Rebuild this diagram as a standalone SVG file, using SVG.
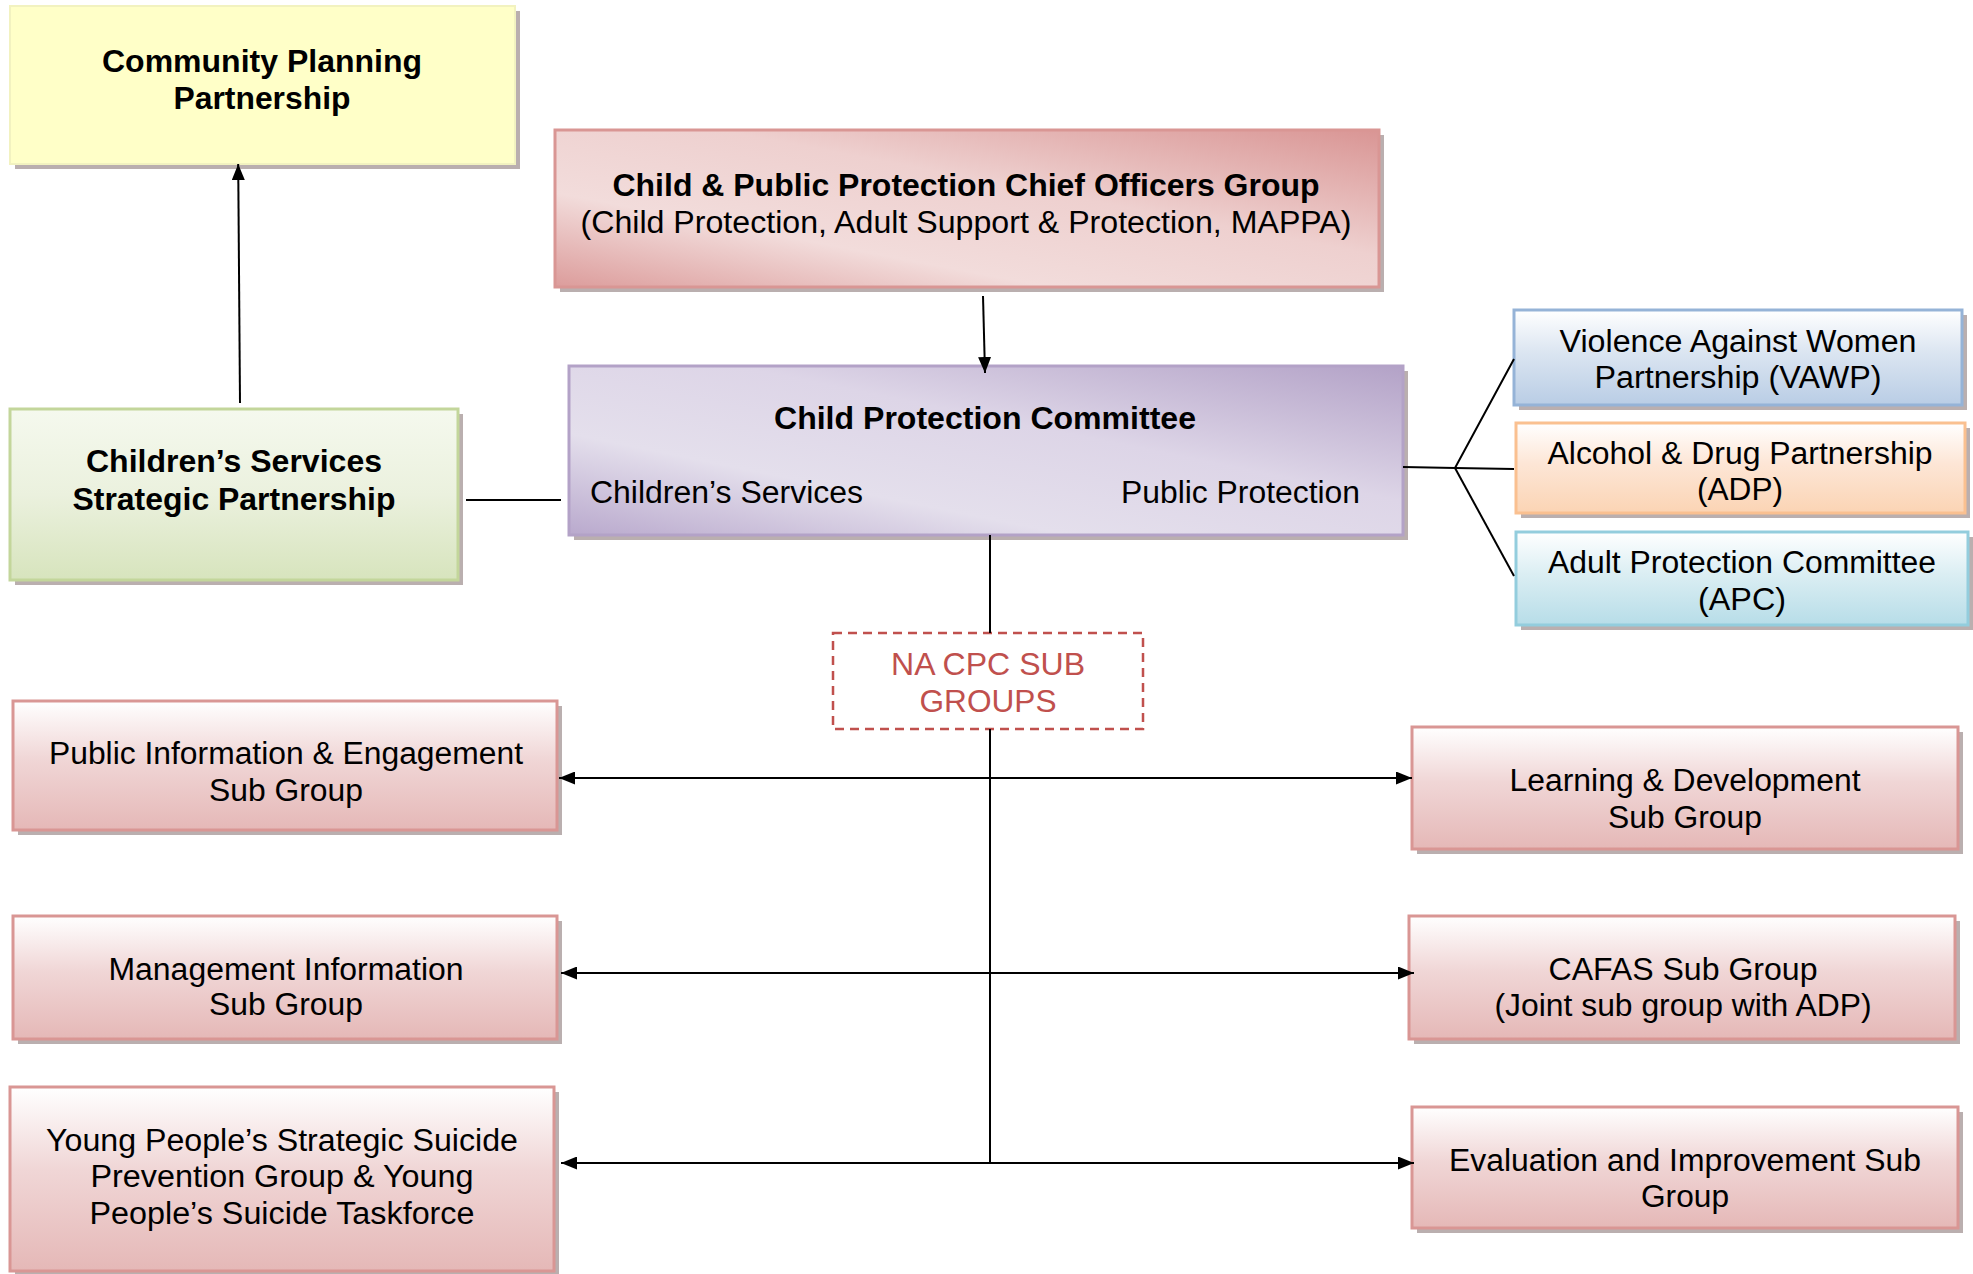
<svg xmlns="http://www.w3.org/2000/svg" width="1973" height="1274" viewBox="0 0 1973 1274">
<defs>
<linearGradient id="gPink" x1="0" y1="0" x2="0" y2="1"><stop offset="0" stop-color="#ffffff"/><stop offset="0.45" stop-color="#f0d6d6"/><stop offset="1" stop-color="#e5b8b7"/></linearGradient>
<linearGradient id="gBlue" x1="0" y1="0" x2="0" y2="1"><stop offset="0" stop-color="#ffffff"/><stop offset="0.45" stop-color="#dbe5f1"/><stop offset="1" stop-color="#b9cde5"/></linearGradient>
<linearGradient id="gOrange" x1="0" y1="0" x2="0" y2="1"><stop offset="0" stop-color="#ffffff"/><stop offset="0.45" stop-color="#fde6d6"/><stop offset="1" stop-color="#fbd4b4"/></linearGradient>
<linearGradient id="gCyan" x1="0" y1="0" x2="0" y2="1"><stop offset="0" stop-color="#ffffff"/><stop offset="0.45" stop-color="#dbeef3"/><stop offset="1" stop-color="#b7dde8"/></linearGradient>
<linearGradient id="gGreen" x1="0" y1="0" x2="0" y2="1"><stop offset="0" stop-color="#f5f9ee"/><stop offset="0.5" stop-color="#ebf1de"/><stop offset="1" stop-color="#d7e4bd"/></linearGradient>
<linearGradient id="gRose" x1="0" y1="1" x2="1" y2="0"><stop offset="0" stop-color="#dc9c9b"/><stop offset="0.3" stop-color="#f2dcdb"/><stop offset="0.6" stop-color="#eed0cf"/><stop offset="1" stop-color="#d99594"/></linearGradient>
<linearGradient id="gPurple" x1="0" y1="1" x2="1" y2="0"><stop offset="0" stop-color="#b9a9cd"/><stop offset="0.3" stop-color="#e4dfec"/><stop offset="0.6" stop-color="#ddd5e7"/><stop offset="1" stop-color="#b3a2c7"/></linearGradient>
<marker id="ah" viewBox="0 0 16 13" refX="16" refY="6.5" markerWidth="16" markerHeight="13" markerUnits="userSpaceOnUse" orient="auto"><path d="M0,0 L16,6.5 L0,13 Z" fill="#000"/></marker>
</defs>
<style>
text{font-family:"Liberation Sans",Arial,sans-serif;font-size:31px;fill:#000;text-anchor:middle}
.b{font-weight:bold}
.sh{fill:#8c7a7a;opacity:0.6}
.pink{fill:url(#gPink);stroke:#d99694;stroke-width:3}
.conn{stroke:#000;stroke-width:2;fill:none}
.red{fill:#c0504d}
</style>
<rect width="1973" height="1274" fill="#fff"/>

<g id="cpp">
<rect class="sh" x="15" y="11" width="505" height="158"/>
<rect x="10" y="6" width="505" height="158" fill="#ffffc8" stroke="#f2f2c0" stroke-width="2"/>
<text class="b" x="262" y="72" textLength="320" lengthAdjust="spacingAndGlyphs">Community Planning</text>
<text class="b" x="262" y="109" textLength="177" lengthAdjust="spacingAndGlyphs">Partnership</text>
</g>

<g id="chief-officers">
<rect class="sh" x="560" y="135" width="824" height="157"/>
<rect x="555" y="130" width="824" height="157" fill="url(#gRose)" stroke="#d99694" stroke-width="3"/>
<text class="b" x="966" y="196" textLength="707" lengthAdjust="spacingAndGlyphs">Child &amp; Public Protection Chief Officers Group</text>
<text x="966" y="233" textLength="771" lengthAdjust="spacingAndGlyphs">(Child Protection, Adult Support &amp; Protection, MAPPA)</text>
</g>

<g id="cpc">
<rect class="sh" x="574" y="371" width="834" height="169"/>
<rect x="569" y="366" width="834" height="169" fill="url(#gPurple)" stroke="#b3a2c7" stroke-width="3"/>
<text class="b" x="985" y="429" textLength="422" lengthAdjust="spacingAndGlyphs">Child Protection Committee</text>
<text x="590" y="503" style="text-anchor:start" textLength="273" lengthAdjust="spacingAndGlyphs">Children’s Services</text>
<text x="1360" y="503" style="text-anchor:end" textLength="239" lengthAdjust="spacingAndGlyphs">Public Protection</text>
</g>

<g id="cssp">
<rect class="sh" x="15" y="414" width="448" height="171"/>
<rect x="10" y="409" width="448" height="171" fill="url(#gGreen)" stroke="#c3d69b" stroke-width="3"/>
<text class="b" x="234" y="472" textLength="296" lengthAdjust="spacingAndGlyphs">Children’s Services</text>
<text class="b" x="234" y="510" textLength="323" lengthAdjust="spacingAndGlyphs">Strategic Partnership</text>
</g>

<g id="vawp">
<rect class="sh" x="1519" y="315" width="448" height="95"/>
<rect x="1514" y="310" width="448" height="95" fill="url(#gBlue)" stroke="#95b3d7" stroke-width="3"/>
<text x="1738" y="352" textLength="357" lengthAdjust="spacingAndGlyphs">Violence Against Women</text>
<text x="1738" y="388" textLength="287" lengthAdjust="spacingAndGlyphs">Partnership (VAWP)</text>
</g>

<g id="adp">
<rect class="sh" x="1521" y="428" width="449" height="90"/>
<rect x="1516" y="423" width="449" height="90" fill="url(#gOrange)" stroke="#fac090" stroke-width="3"/>
<text x="1740" y="464" textLength="385" lengthAdjust="spacingAndGlyphs">Alcohol &amp; Drug Partnership</text>
<text x="1740" y="500" textLength="86" lengthAdjust="spacingAndGlyphs">(ADP)</text>
</g>

<g id="apc">
<rect class="sh" x="1521" y="537" width="452" height="93"/>
<rect x="1516" y="532" width="452" height="93" fill="url(#gCyan)" stroke="#93cddd" stroke-width="3"/>
<text x="1742" y="573" textLength="388" lengthAdjust="spacingAndGlyphs">Adult Protection Committee</text>
<text x="1742" y="610" textLength="88" lengthAdjust="spacingAndGlyphs">(APC)</text>
</g>

<g id="na-cpc">
<rect x="833" y="633" width="310" height="96" fill="#fff" stroke="#c0504d" stroke-width="2.5" stroke-dasharray="9,6"/>
<text class="red" x="988" y="675" textLength="194" lengthAdjust="spacingAndGlyphs">NA CPC SUB</text>
<text class="red" x="988" y="712" textLength="137" lengthAdjust="spacingAndGlyphs">GROUPS</text>
</g>

<g id="pie">
<rect class="sh" x="18" y="706" width="544" height="129"/>
<rect class="pink" x="13" y="701" width="544" height="129"/>
<text x="286" y="764" textLength="474" lengthAdjust="spacingAndGlyphs">Public Information &amp; Engagement</text>
<text x="286" y="801" textLength="154" lengthAdjust="spacingAndGlyphs">Sub Group</text>
</g>

<g id="mi">
<rect class="sh" x="18" y="921" width="544" height="123"/>
<rect class="pink" x="13" y="916" width="544" height="123"/>
<text x="286" y="980" textLength="355" lengthAdjust="spacingAndGlyphs">Management Information</text>
<text x="286" y="1015" textLength="154" lengthAdjust="spacingAndGlyphs">Sub Group</text>
</g>

<g id="yp">
<rect class="sh" x="15" y="1092" width="544" height="184"/>
<rect class="pink" x="10" y="1087" width="544" height="184"/>
<text x="282" y="1151" textLength="472" lengthAdjust="spacingAndGlyphs">Young People’s Strategic Suicide</text>
<text x="282" y="1187" textLength="383" lengthAdjust="spacingAndGlyphs">Prevention Group &amp; Young</text>
<text x="282" y="1224" textLength="385" lengthAdjust="spacingAndGlyphs">People’s Suicide Taskforce</text>
</g>

<g id="ld">
<rect class="sh" x="1417" y="732" width="546" height="122"/>
<rect class="pink" x="1412" y="727" width="546" height="122"/>
<text x="1685" y="791" textLength="351" lengthAdjust="spacingAndGlyphs">Learning &amp; Development</text>
<text x="1685" y="828" textLength="154" lengthAdjust="spacingAndGlyphs">Sub Group</text>
</g>

<g id="cafas">
<rect class="sh" x="1414" y="921" width="546" height="123"/>
<rect class="pink" x="1409" y="916" width="546" height="123"/>
<text x="1683" y="980" textLength="269" lengthAdjust="spacingAndGlyphs">CAFAS Sub Group</text>
<text x="1683" y="1016" textLength="377" lengthAdjust="spacingAndGlyphs">(Joint sub group with ADP)</text>
</g>

<g id="ei">
<rect class="sh" x="1417" y="1112" width="546" height="121"/>
<rect class="pink" x="1412" y="1107" width="546" height="121"/>
<text x="1685" y="1171" textLength="472" lengthAdjust="spacingAndGlyphs">Evaluation and Improvement Sub</text>
<text x="1685" y="1207" textLength="88" lengthAdjust="spacingAndGlyphs">Group</text>
</g>

<g id="connectors">
<line class="conn" x1="240" y1="403" x2="238.2" y2="164" marker-end="url(#ah)"/>
<line class="conn" x1="983" y1="296" x2="985" y2="373" marker-end="url(#ah)"/>
<line class="conn" x1="466" y1="500" x2="561" y2="500"/>
<polyline class="conn" points="1403,467 1455,468 1514,359"/>
<line class="conn" x1="1455" y1="468" x2="1514" y2="469"/>
<line class="conn" x1="1455" y1="468" x2="1514" y2="576"/>
<line class="conn" x1="990" y1="535" x2="990" y2="633"/>
<line class="conn" x1="990" y1="729" x2="990" y2="1163"/>
<line class="conn" x1="990" y1="778" x2="559" y2="778" marker-end="url(#ah)"/>
<line class="conn" x1="990" y1="778" x2="1412" y2="778" marker-end="url(#ah)"/>
<line class="conn" x1="990" y1="973" x2="561" y2="973" marker-end="url(#ah)"/>
<line class="conn" x1="990" y1="973" x2="1414" y2="973" marker-end="url(#ah)"/>
<line class="conn" x1="990" y1="1163" x2="561" y2="1163" marker-end="url(#ah)"/>
<line class="conn" x1="990" y1="1163" x2="1414" y2="1163" marker-end="url(#ah)"/>
</g>
</svg>
